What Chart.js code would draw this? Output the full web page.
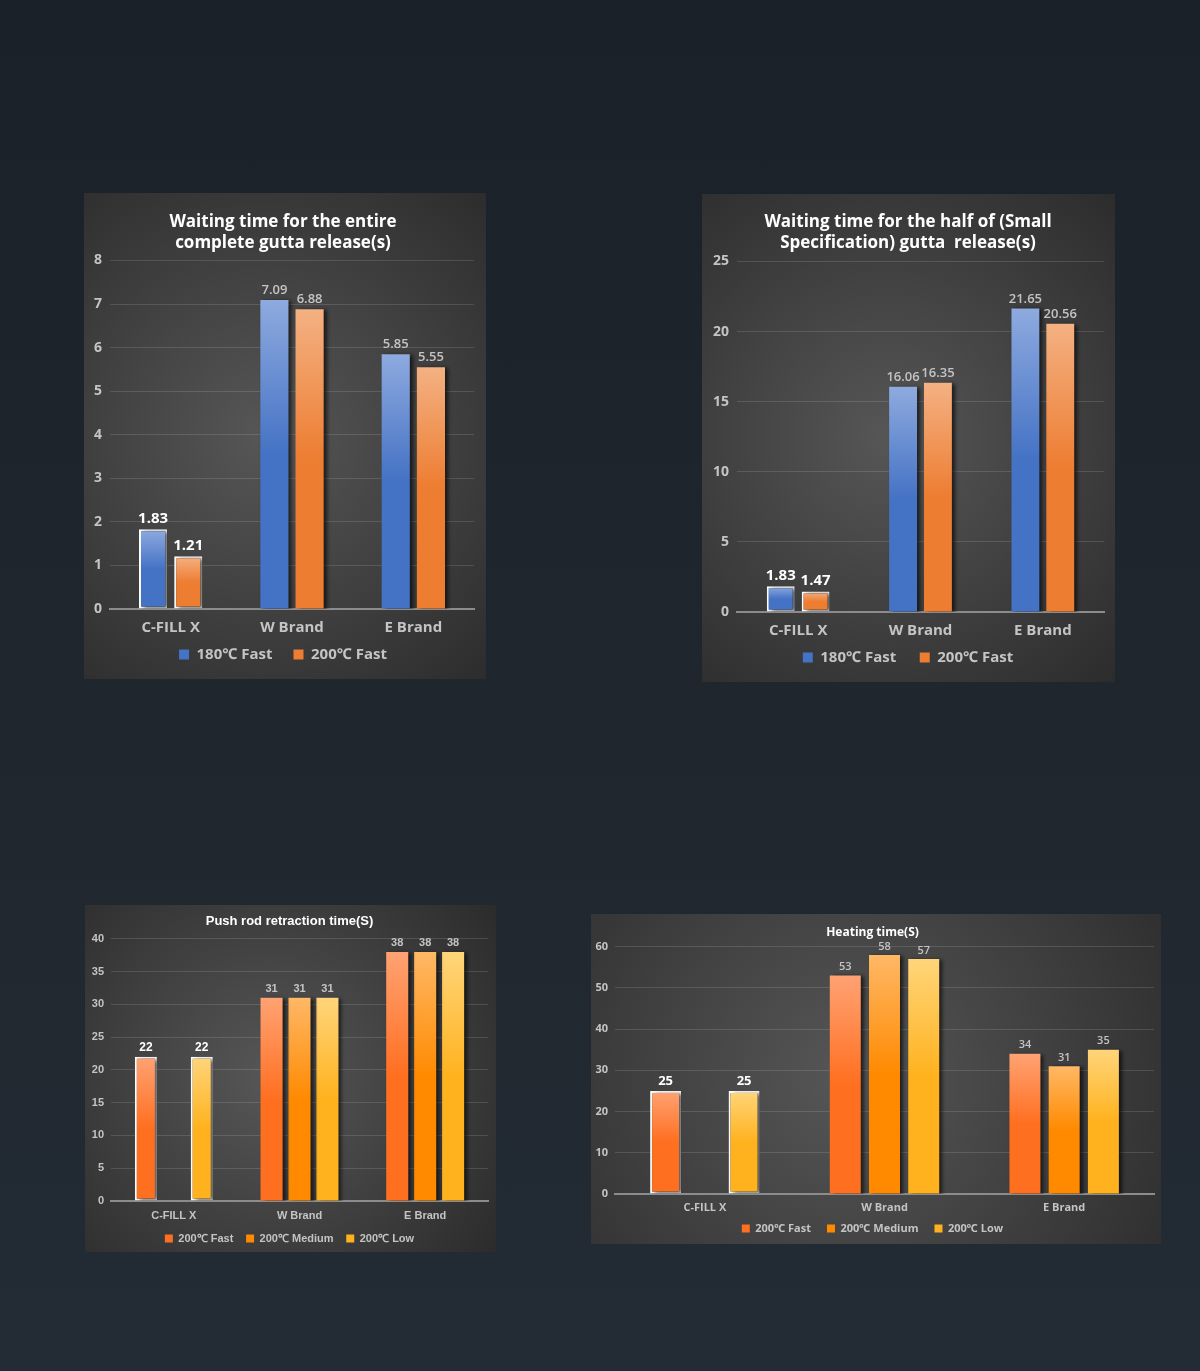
<!DOCTYPE html>
<html>
<head>
<meta charset="utf-8">
<script src="https://cdn.jsdelivr.net/npm/chart.js@4/dist/chart.umd.min.js"></script>
<style>
    html, body { margin: 0; padding: 0; }
    body {
        width: 1200px; height: 1371px; position: relative; overflow: hidden;
        background: linear-gradient(180deg, #1b2128 0%, #1f262e 50%, #232b34 100%);
    }
    canvas { position: absolute; }
</style>
</head>
<body>
<canvas id="entireChart" width="402" height="486" style="left:84px;top:193px"></canvas>
<canvas id="halfChart" width="413" height="488" style="left:702px;top:194px"></canvas>
<canvas id="pushChart" width="411" height="347" style="left:85px;top:905px"></canvas>
<canvas id="heatChart" width="570" height="330" style="left:591px;top:914px"></canvas>
<script>
// Shared categories
const categories = ['C-FILL X', 'W Brand', 'E Brand'];

// Chart 1: waiting time, entire gutta release
const entire180Fast = [1.83, 7.09, 5.85];
const entire200Fast = [1.21, 6.88, 5.55];
const entireTicks = { max: 8, step: 1 };

// Chart 2: waiting time, half (small specification) release
const half180Fast = [1.83, 16.06, 21.65];
const half200Fast = [1.47, 16.35, 20.56];
const halfTicks = { max: 25, step: 5 };

// Chart 3: push rod retraction time
const push200Fast = [22, 31, 38];
const push200Medium = [null, 31, 38];
const push200Low = [22, 31, 38];
const pushTicks = { max: 40, step: 5 };

// Chart 4: heating time
const heat200Fast = [25, 53, 34];
const heat200Medium = [null, 58, 31];
const heat200Low = [25, 57, 35];
const heatTicks = { max: 60, step: 10 };

// colours: [light top, base]
const BLUE = ['#8eaadf', '#4472c4'];
const ORANGE = ['#f4b183', '#ed7d31'];
const FAST = ['#ffa273', '#ff6f20'];
const MEDIUM = ['#ffb866', '#ff8a00'];
const LOW = ['#ffd57a', '#ffb21e'];

function barFill(colors) {
    return function(context) {
        const chart = context.chart;
        const raw = context.raw;
        if (!chart.chartArea || raw == null) return colors[1];
        const y = chart.scales.y;
        const top = y.getPixelForValue(raw);
        const bottom = y.getPixelForValue(0);
        const g = chart.ctx.createLinearGradient(0, top, 0, bottom);
        g.addColorStop(0, colors[0]);
        g.addColorStop(0.5, colors[1]);
        g.addColorStop(1, colors[1]);
        return g;
    };
}

// dark panel with a soft radial highlight
const panelBackground = {
    id: 'panelBackground',
    beforeDraw(chart) {
        const { ctx, width, height } = chart;
        const g = ctx.createRadialGradient(width * 0.45, height * 0.5, 10, width * 0.45, height * 0.5, Math.max(width, height) * 0.7);
        g.addColorStop(0, '#555555');
        g.addColorStop(1, '#2b2b2b');
        ctx.save();
        ctx.fillStyle = g;
        ctx.fillRect(0, 0, width, height);
        ctx.restore();
    }
};

// drop shadow on the bars
const barShadow = {
    id: 'barShadow',
    beforeDatasetDraw(chart) {
        const ctx = chart.ctx;
        ctx.save();
        ctx.shadowColor = 'rgba(0,0,0,0.65)';
        ctx.shadowBlur = 4;
        ctx.shadowOffsetX = 3;
        ctx.shadowOffsetY = 1;
    },
    afterDatasetDraw(chart) {
        chart.ctx.restore();
    }
};

// value labels above the bars
const valueLabels = {
    id: 'valueLabels',
    afterDatasetsDraw(chart, args, opts) {
        const ctx = chart.ctx;
        ctx.save();
        ctx.textAlign = 'center';
        ctx.textBaseline = 'bottom';
        chart.data.datasets.forEach((ds, di) => {
            const meta = chart.getDatasetMeta(di);
            meta.data.forEach((bar, i) => {
                const v = ds.data[i];
                if (v == null) return;
                if (i === 0) {
                    ctx.font = 'bold ' + opts.bigSize + 'px ' + opts.family;
                    ctx.fillStyle = '#ffffff';
                } else {
                    ctx.font = '600 ' + opts.size + 'px ' + opts.family;
                    ctx.fillStyle = '#c4c4c4';
                }
                ctx.fillText(String(v), bar.x, bar.y - 3);
            });
        });
        ctx.restore();
    }
};

function makeChart(id, p) {
    const el = document.getElementById(id);
    const datasets = p.series.map(s => ({
        label: s.label,
        data: s.data,
        backgroundColor: barFill(s.colors),
        borderColor: ctx => ctx.dataIndex === 0 ? '#ffffff' : 'rgba(0,0,0,0)',
        borderWidth: ctx => ctx.dataIndex === 0 ? 2 : 0,
        borderSkipped: false,
        categoryPercentage: p.catPct,
        barPercentage: p.barPct
    }));
    const colorOf = p.series.map(s => s.colors[1]);
    const grey = '#c4c4c4';
    const n = p.series.length;
    return new Chart(el.getContext('2d'), {
        type: 'bar',
        data: { labels: categories, datasets: datasets },
        options: {
            responsive: false,
            animation: false,
            layout: { padding: { left: p.padLeft, right: p.padRight, top: 0, bottom: p.padBottom } },
            scales: {
                x: {
                    afterFit: scale => { scale.height = p.xHeight; },
                    grid: { display: false, drawTicks: false },
                    border: { color: '#8c8c8c', width: 2 },
                    ticks: { color: grey, padding: p.xPad, font: { family: p.family, size: p.catSize, weight: 'bold' } }
                },
                y: {
                    min: 0,
                    max: p.ticks.max,
                    afterFit: scale => { scale.width = p.yWidth; },
                    grid: { color: 'rgba(255,255,255,0.13)', drawTicks: false, lineWidth: 1 },
                    border: { display: false },
                    ticks: { stepSize: p.ticks.step, color: grey, padding: p.yPad, font: { family: p.family, size: p.tickSize, weight: 'bold' } }
                }
            },
            plugins: {
                title: {
                    display: true,
                    text: p.title,
                    color: '#ffffff',
                    font: { family: p.family, size: p.titleSize, weight: 'bold', lineHeight: 1.22 },
                    padding: { top: p.titleTop, bottom: p.titleBottom }
                },
                legend: {
                    position: 'bottom',
                    labels: {
                        color: grey,
                        boxWidth: p.legendBox,
                        boxHeight: p.legendBox,
                        padding: p.legendPad,
                        font: { family: p.family, size: p.legendSize, weight: 'bold' },
                        // wider gap between legend items without extra vertical padding
                        generateLabels: chart => chart.data.datasets.map((ds, i) => ({
                            text: i < n - 1 ? ds.label + p.legendGap : ds.label,
                            fillStyle: colorOf[i],
                            strokeStyle: colorOf[i],
                            lineWidth: 0,
                            fontColor: grey,
                            datasetIndex: i
                        }))
                    }
                },
                tooltip: { enabled: false },
                valueLabels: { size: p.labelSize, bigSize: p.bigLabelSize, family: p.family }
            }
        },
        plugins: [panelBackground, barShadow, valueLabels]
    });
}

document.addEventListener('DOMContentLoaded', function() {
    const topFont = '"Open Sans", "Noto Sans", sans-serif';

    makeChart('entireChart', {
        title: ['Waiting time for the entire', 'complete gutta release(s)'],
        series: [
            { label: '180\u2103 Fast', data: entire180Fast, colors: BLUE },
            { label: '200\u2103 Fast', data: entire200Fast, colors: ORANGE }
        ],
        ticks: entireTicks, family: topFont,
        titleSize: 17, tickSize: 14, catSize: 15, legendSize: 15, labelSize: 13, bigLabelSize: 15,
        titleTop: 19, titleBottom: 7, yWidth: 18, yPad: 8, xPad: 10, xHeight: 32,
        padLeft: 8, padRight: 12, padBottom: 7, legendBox: 10, legendPad: 6, legendGap: '\u2003',
        catPct: 0.58, barPct: 0.8
    });

    makeChart('halfChart', {
        title: ['Waiting time for the half of (Small', 'Specification) gutta  release(s)'],
        series: [
            { label: '180\u2103 Fast', data: half180Fast, colors: BLUE },
            { label: '200\u2103 Fast', data: half200Fast, colors: ORANGE }
        ],
        ticks: halfTicks, family: topFont,
        titleSize: 17, tickSize: 14, catSize: 15, legendSize: 15, labelSize: 13, bigLabelSize: 15,
        titleTop: 18, titleBottom: 8, yWidth: 25, yPad: 8, xPad: 10, xHeight: 32,
        padLeft: 10, padRight: 11, padBottom: 7, legendBox: 10, legendPad: 6, legendGap: '\u2003\u2009',
        catPct: 0.57, barPct: 0.8
    });

    makeChart('pushChart', {
        title: 'Push rod retraction time(S)',
        series: [
            { label: '200\u2103 Fast', data: push200Fast, colors: FAST },
            { label: '200\u2103 Medium', data: push200Medium, colors: MEDIUM },
            { label: '200\u2103 Low', data: push200Low, colors: LOW }
        ],
        ticks: pushTicks, family: '"Liberation Sans", Arial, sans-serif',
        titleSize: 13, tickSize: 11, catSize: 11, legendSize: 11, labelSize: 11, bigLabelSize: 12,
        titleTop: 8, titleBottom: 10, yWidth: 20, yPad: 7, xPad: 8, xHeight: 27,
        padLeft: 6, padRight: 8, padBottom: -2, legendBox: 8, legendPad: 5, legendGap: '\u2002\u2009',
        catPct: 0.667, barPct: 0.79
    });

    makeChart('heatChart', {
        title: 'Heating time(S)',
        series: [
            { label: '200\u2103 Fast', data: heat200Fast, colors: FAST },
            { label: '200\u2103 Medium', data: heat200Medium, colors: MEDIUM },
            { label: '200\u2103 Low', data: heat200Low, colors: LOW }
        ],
        ticks: heatTicks, family: topFont,
        titleSize: 12, tickSize: 11, catSize: 11, legendSize: 11, labelSize: 11, bigLabelSize: 13,
        titleTop: 11, titleBottom: 7, yWidth: 24, yPad: 7, xPad: 7, xHeight: 24,
        padLeft: 0, padRight: 7, padBottom: 0, legendBox: 8, legendPad: 5, legendGap: '\u2003',
        catPct: 0.655, barPct: 0.79
    });
});
</script>
</body>
</html>
